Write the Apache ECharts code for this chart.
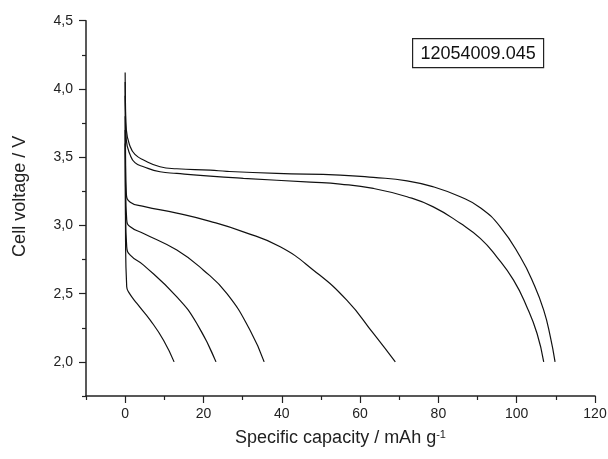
<!DOCTYPE html>
<html>
<head>
<meta charset="utf-8">
<script src="https://cdn.jsdelivr.net/npm/echarts@6/dist/echarts.min.js"></script>
<style>
html,body{margin:0;padding:0;background:#fff;}
#c{width:608px;height:459px;}
</style>
</head>
<body>
<div id="c"></div>
<script>
// ---- data ----
const A_x = [0, 0.1, 0.3, 1.3, 2.5, 4.7, 8.9, 13.2, 21.7, 26, 38.7, 54.9, 63.4, 72, 78.7, 85.6, 90.7, 95.8, 100.9, 104.3, 106.9, 108.6, 109.8];
const A_y = [4.12, 3.85, 3.70, 3.576, 3.52, 3.479, 3.43, 3.415, 3.405, 3.396, 3.381, 3.369, 3.352, 3.327, 3.283, 3.21, 3.13, 2.99, 2.77, 2.575, 2.379, 2.183, 2.0];
const B_x = [0, 0.1, 0.3, 1.3, 2.5, 4.7, 8.9, 13.2, 21.7, 30.2, 47.3, 54.9, 63.4, 72, 78.7, 85.6, 90.7, 94.9, 99.2, 102.6, 105.2, 106.9];
const B_y = [4.05, 3.78, 3.625, 3.515, 3.46, 3.43, 3.393, 3.381, 3.361, 3.345, 3.317, 3.303, 3.271, 3.21, 3.136, 3.015, 2.905, 2.77, 2.599, 2.403, 2.208, 2.0];
const C_x = [0, 0.1, 0.3, 1.3, 4.7, 13.2, 21.7, 30.2, 39.6, 48.1, 56.6, 63.4, 69];
const C_y = [3.95, 3.5, 3.235, 3.17, 3.14, 3.09, 3.03, 2.953, 2.843, 2.672, 2.452, 2.208, 2.0];
const D_x = [0, 0.1, 0.4, 1.3, 4.7, 13.2, 20, 26, 31.9, 35.5];
const D_y = [3.8, 3.3, 3.04, 2.99, 2.941, 2.819, 2.672, 2.5, 2.232, 2.0];
const E_x = [0, 0.1, 0.4, 1.3, 4.7, 13.2, 18.3, 23.2];
const E_y = [3.7, 3.1, 2.843, 2.782, 2.709, 2.476, 2.281, 2.0];
const F_x = [0, 0.1, 0.4, 0.85, 3, 6.4, 9.8, 12.5];
const F_y = [3.6, 2.9, 2.55, 2.513, 2.428, 2.306, 2.159, 2.0];

const xMajorTicks = [0, 20, 40, 60, 80, 100, 120];
const xMinorTicks = [-10, 10, 30, 50, 70, 90, 110];
const yMajorTicks = [2.0, 2.5, 3.0, 3.5, 4.0, 4.5];
const yMinorTicks = [1.75, 2.25, 2.75, 3.25, 3.75, 4.25];

const xTitle = 'Specific capacity / mAh g';
const xTitleSup = '-1';
const yTitle = 'Cell voltage / V';
const boxLabel = '12054009.045';

// ---- chart ----
const curves = [[A_x, A_y], [B_x, B_y], [C_x, C_y], [D_x, D_y], [E_x, E_y], [F_x, F_y]];
const FONT = '"Liberation Sans", Arial, sans-serif';
const axisCol = '#222';

function zip(xs, ys) { return xs.map((x, i) => [x, ys[i]]); }

const chart = echarts.init(document.getElementById('c'), null, {renderer: 'canvas'});
const xBase = {
  type: 'value', min: -10, max: 120, gridIndex: 0, position: 'bottom',
  splitLine: {show: false}
};
const yBase = {
  type: 'value', min: 1.75, max: 4.5, gridIndex: 0, position: 'left',
  splitLine: {show: false}
};
chart.setOption({
  animation: false,
  backgroundColor: '#fff',
  grid: {left: 86, right: 13, top: 20.7, bottom: 63, containLabel: false, outerBoundsMode: 'none'},
  xAxis: [
    Object.assign({}, xBase, {
      axisLine: {show: true, onZero: false, lineStyle: {color: axisCol, width: 1.5}},
      axisTick: {show: true, inside: false, length: 7, customValues: xMajorTicks, lineStyle: {color: axisCol, width: 1.2}},
      axisLabel: {show: true, customValues: xMajorTicks, margin: 11, fontSize: 14, fontFamily: FONT, color: '#222'},
      name: xTitle + '{sup|' + xTitleSup + '}',
      nameLocation: 'middle', nameGap: 33,
      nameTextStyle: {fontSize: 18, fontFamily: FONT, color: '#222',
        rich: {sup: {fontSize: 11, fontFamily: FONT, color: '#222', verticalAlign: 'top', padding: [0, 0, 8, 0]}}}
    }),
    Object.assign({}, xBase, {
      axisLine: {show: false, onZero: false},
      axisTick: {show: true, inside: false, length: 4, customValues: xMinorTicks, lineStyle: {color: axisCol, width: 1.2}},
      axisLabel: {show: false}
    })
  ],
  yAxis: [
    Object.assign({}, yBase, {
      axisLine: {show: true, onZero: false, lineStyle: {color: axisCol, width: 1.5}},
      axisTick: {show: true, inside: false, length: 7, customValues: yMajorTicks, lineStyle: {color: axisCol, width: 1.2}},
      axisLabel: {show: true, customValues: yMajorTicks, margin: 13, fontSize: 14, fontFamily: FONT, color: '#222',
        formatter: v => v.toFixed(1).replace('.', ',')},
      name: yTitle, nameLocation: 'middle', nameGap: 57, nameRotate: 90,
      nameTextStyle: {fontSize: 18, fontFamily: FONT, color: '#222', padding: [0, 0, 0, 24]}
    }),
    Object.assign({}, yBase, {
      axisLine: {show: false, onZero: false},
      axisTick: {show: true, inside: false, length: 4, customValues: yMinorTicks, lineStyle: {color: axisCol, width: 1.2}},
      axisLabel: {show: false}
    })
  ],
  graphic: [{
    type: 'group', left: 412, top: 38,
    children: [
      {type: 'rect', shape: {x: 0, y: 0, width: 131, height: 29}, style: {fill: '#fff', stroke: '#222', lineWidth: 1.2}},
      {type: 'text', x: 65.5, y: 15, style: {text: boxLabel, font: '18px "Liberation Sans", Arial, sans-serif', fill: '#111', align: 'center', verticalAlign: 'middle'}}
    ]
  }],
  series: curves.map(c => ({
    type: 'line', xAxisIndex: 0, yAxisIndex: 0,
    data: zip(c[0], c[1]),
    showSymbol: false, symbol: 'none', smooth: 0.5,
    lineStyle: {color: '#111', width: 1.2},
    silent: true
  }))
});
</script>
</body>
</html>
